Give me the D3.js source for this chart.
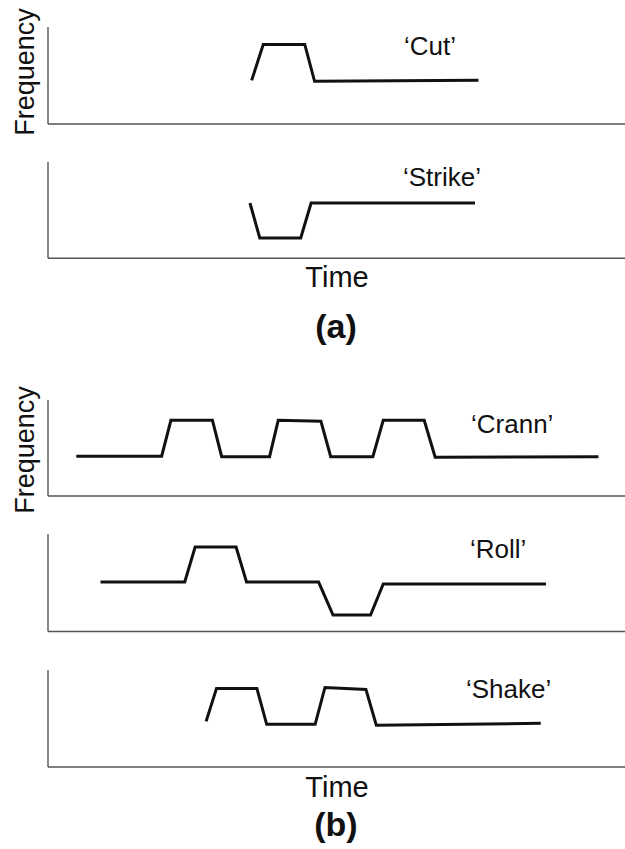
<!DOCTYPE html>
<html>
<head>
<meta charset="utf-8">
<script src="https://cdn.jsdelivr.net/npm/d3@7"></script>
<style>
  html, body { margin: 0; padding: 0; background: #fff; }
  svg { display: block; }
  text { font-family: "Liberation Sans", Arial, Helvetica, sans-serif; fill: #111; }
</style>
</head>
<body>
<svg id="chart" width="625" height="849"></svg>
<script>
// ---- Data (time units 0-100 along axis, frequency units 0-10 up the axis) ----
const seriesNames = ["‘Cut’", "‘Strike’", "‘Crann’", "‘Roll’", "‘Shake’"];

const cutTime   = [35.3, 37.3, 44.5, 46.2, 74.6];
const cutFreq   = [4.5, 8.2, 8.2, 4.4, 4.5];

const strikeTime = [35.0, 36.7, 43.8, 45.6, 74.0];
const strikeFreq = [5.7, 2.1, 2.1, 5.7, 5.7];

const crannTime = [4.9, 19.7, 21.3, 28.5, 30.1, 38.4, 39.9, 47.3, 49.0, 56.3, 58.1, 65.2, 67.1, 95.4];
const crannFreq = [4.1, 4.1, 7.8, 7.8, 4.05, 4.05, 7.8, 7.7, 4.05, 4.05, 7.8, 7.8, 4.0, 4.05];

const rollTime = [9.1, 23.7, 25.5, 32.6, 34.4, 46.9, 49.4, 55.9, 58.1, 86.3];
const rollFreq = [5.1, 5.1, 8.7, 8.7, 5.1, 5.1, 1.7, 1.7, 4.9, 4.9];

const shakeTime = [27.4, 29.2, 36.2, 37.9, 46.3, 48.0, 55.1, 56.9, 85.4];
const shakeFreq = [4.7, 8.1, 8.1, 4.4, 4.4, 8.2, 8.0, 4.3, 4.5];

const axisLabelY = "Frequency";
const axisLabelX = "Time";
const panelLabels = ["(a)", "(b)"];

// ---- Layout ----
const svg = d3.select("#chart");
const axisLeft = 48, axisRight = 625;
const panels = [
  { name: seriesNames[0], t: cutTime,    f: cutFreq,    top: 27,  bottom: 124,   lx: 404, ly: 55 },
  { name: seriesNames[1], t: strikeTime, f: strikeFreq, top: 162, bottom: 258.3, lx: 403, ly: 186 },
  { name: seriesNames[2], t: crannTime,  f: crannFreq,  top: 400, bottom: 496,   lx: 471, ly: 433 },
  { name: seriesNames[3], t: rollTime,   f: rollFreq,   top: 534, bottom: 631.5, lx: 470, ly: 558 },
  { name: seriesNames[4], t: shakeTime,  f: shakeFreq,  top: 670, bottom: 767,   lx: 466, ly: 698 }
];

const x = d3.scaleLinear().domain([0, 100]).range([axisLeft, axisRight]);

panels.forEach(p => {
  const y = d3.scaleLinear().domain([0, 10]).range([p.bottom, p.bottom - 97]);
  const g = svg.append("g");
  // axes (plain lines, no ticks)
  g.append("line")
    .attr("x1", axisLeft).attr("x2", axisLeft)
    .attr("y1", p.top).attr("y2", p.bottom)
    .attr("stroke", "#555").attr("stroke-width", 1.4);
  g.append("line")
    .attr("x1", axisLeft).attr("x2", axisRight)
    .attr("y1", p.bottom).attr("y2", p.bottom)
    .attr("stroke", "#555").attr("stroke-width", 1.4);

  const pts = p.t.map((t, i) => [t, p.f[i]]);
  const line = d3.line().x(d => x(d[0])).y(d => y(d[1]));
  g.append("path")
    .attr("d", line(pts))
    .attr("fill", "none")
    .attr("stroke", "#111")
    .attr("stroke-width", 3)
    .attr("stroke-linejoin", "miter");

  g.append("text")
    .attr("x", p.lx).attr("y", p.ly)
    .attr("font-size", 26)
    .text(p.name);
});

// Y axis labels
[[72, 0], [450, 2]].forEach(([cy]) => {
  svg.append("text")
    .attr("transform", `translate(33.5,${cy}) rotate(-90)`)
    .attr("text-anchor", "middle")
    .attr("font-size", 27)
    .text(axisLabelY);
});

// X axis labels
[287, 797].forEach(by => {
  svg.append("text")
    .attr("x", 337).attr("y", by)
    .attr("text-anchor", "middle")
    .attr("font-size", 29)
    .text(axisLabelX);
});

// Panel labels
[[338, 0], [836, 1]].forEach(([by, i]) => {
  svg.append("text")
    .attr("x", 336).attr("y", by)
    .attr("text-anchor", "middle")
    .attr("font-size", 34)
    .attr("font-weight", "bold")
    .text(panelLabels[i]);
});
</script>
</body>
</html>
